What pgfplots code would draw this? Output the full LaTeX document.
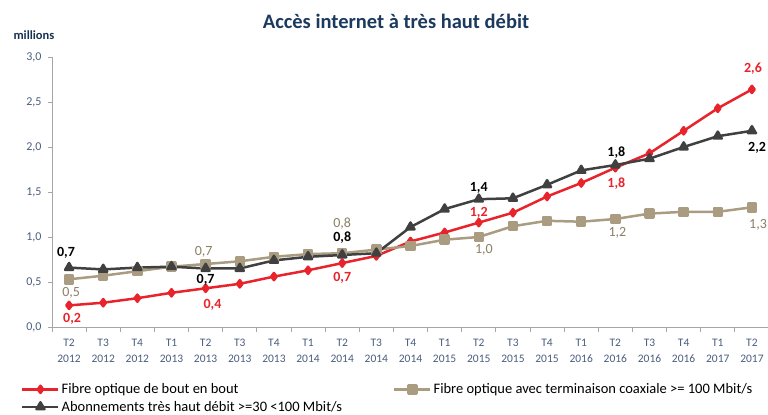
\documentclass[border=0pt]{standalone}
\usepackage{pgfplots}
\usepackage{pgfplotstable}
\pgfplotsset{compat=1.18}
\usepackage{fontspec}
\setmainfont{Carlito}
\definecolor{cred}{HTML}{E8232B}
\definecolor{ctan}{HTML}{A99C80}
\definecolor{ctanlab}{HTML}{8C7F64}
\definecolor{cdark}{HTML}{404040}
\definecolor{ctick}{HTML}{4A5D7E}
\definecolor{ctitle}{HTML}{1B3A5E}

\pgfplotstableread{
x y
0 0.24
1 0.27
2 0.32
3 0.38
4 0.43
5 0.48
6 0.56
7 0.63
8 0.71
9 0.79
10 0.95
11 1.05
12 1.16
13 1.27
14 1.45
15 1.60
16 1.77
17 1.93
18 2.18
19 2.43
20 2.64
}\redtab
\pgfplotstableread{
x y
0 0.53
1 0.57
2 0.62
3 0.67
4 0.70
5 0.73
6 0.78
7 0.81
8 0.82
9 0.86
10 0.90
11 0.97
12 1.00
13 1.12
14 1.18
15 1.17
16 1.20
17 1.26
18 1.28
19 1.28
20 1.33
}\tantab
\pgfplotstableread{
x y
0 0.66
1 0.64
2 0.66
3 0.67
4 0.65
5 0.65
6 0.74
7 0.78
8 0.80
9 0.82
10 1.11
11 1.31
12 1.42
13 1.43
14 1.58
15 1.74
16 1.80
17 1.87
18 2.00
19 2.12
20 2.18
}\darktab
% label positions (x, y of the label centre) and texts
\pgfplotstableread{
x y lab
0.09 0.096 0,2
4.2 0.241 0,4
8 0.543 0,7
12 1.271 1,2
16.03 1.592 1,8
20.03 2.873 2,6
}\redlab
\pgfplotstableread{
x y lab
0.06 0.374 0,5
3.94 0.833 0,7
8 1.153 0,8
12.15 0.856 1,0
16.06 1.044 1,2
20.18 1.13 1,3
}\tanlab
\pgfplotstableread{
x y lab
-0.09 0.827 0,7
4 0.528 0,7
8 0.989 0,8
12 1.542 1,4
16.03 1.933 1,8
20.15 1.991 2,2
}\darklab

\pgfplotsset{
  labelplot/.style={
    draw=none, mark=none, forget plot,
    point meta=explicit symbolic,
    nodes near coords,
    nodes near coords align=center,
  }
}

\begin{document}
\begin{tikzpicture}
\begin{axis}[
  at={(52bp,88bp)}, anchor=south west,
  scale only axis, width=717bp, height=270bp,
  xmin=-0.5, xmax=20.5, ymin=0, ymax=3,
  clip=false,
  axis x line*=bottom, axis y line*=left,
  axis line style={draw=black!35, line width=0.8bp},
  every axis plot/.append style={line join=round},
  /pgf/number format/assume math mode=true,
  tick align=outside,
  xtick={0,...,20},
  xticklabels={{T2\\2012},{T3\\2012},{T4\\2012},{T1\\2013},{T2\\2013},{T3\\2013},{T4\\2013},{T1\\2014},{T2\\2014},{T3\\2014},{T4\\2014},{T1\\2015},{T2\\2015},{T3\\2015},{T4\\2015},{T1\\2016},{T2\\2016},{T3\\2016},{T4\\2016},{T1\\2017},{T2\\2017}},
  x tick label style={align=center, text=ctick, font=\fontsize{11.5bp}{16bp}\selectfont, inner sep=2bp, yshift=-6bp},
  major x tick style={draw=none},
  minor xtick={-0.5,0.5,...,20.5},
  minor tick length=5bp,
  minor x tick style={draw=black!35, line width=0.8bp},
  ytick={0,0.5,...,3},
  major tick length=4bp,
  y tick style={draw=black!35, line width=0.8bp},
  yticklabel style={/pgf/number format/.cd, fixed, fixed zerofill, precision=1, use comma, /tikz/.cd, text=ctick, font=\fontsize{12bp}{13bp}\selectfont, xshift=-3bp},
  legend columns=2,
  legend cell align=left,
  legend style={at={(-0.0474,-0.194)}, anchor=north west, draw=none, fill=none,
    font=\fontsize{14.5bp}{16bp}\selectfont, row sep=2bp,
    /tikz/column 2/.style={column sep=49bp}},
  legend image code/.code={\draw[#1, mark repeat=2, mark phase=2, line width=2.5bp] plot coordinates {(0bp,0bp) (18bp,0bp) (36bp,0bp)};},
]
\addplot[cred, line width=2.5bp, mark=diamond*, mark size=3.6bp] table[x=x,y=y]{\redtab};
\addlegendentry{Fibre optique de bout en bout}
\addplot[ctan, line width=2.5bp, mark=square*, mark size=4bp] table[x=x,y=y]{\tantab};
\addlegendentry{Fibre optique avec terminaison coaxiale >= 100 Mbit/s}
\addplot[cdark, line width=2.5bp, mark=triangle*, mark size=4.6bp] table[x=x,y=y]{\darktab};
\addlegendentry{Abonnements très haut débit >=30 <100 Mbit/s}

\addplot[labelplot, nodes near coords style={anchor=center, inner sep=0pt, text=cred, font=\fontsize{14bp}{15bp}\selectfont\bfseries}] table[x=x,y=y,meta=lab]{\redlab};
\addplot[labelplot, nodes near coords style={anchor=center, inner sep=0pt, text=ctanlab, font=\fontsize{14bp}{15bp}\selectfont}] table[x=x,y=y,meta=lab]{\tanlab};
\addplot[labelplot, nodes near coords style={anchor=center, inner sep=0pt, text=black, font=\fontsize{14bp}{15bp}\selectfont\bfseries}] table[x=x,y=y,meta=lab]{\darklab};
\end{axis}
\node[anchor=base, text=ctitle, font=\fontsize{20.5bp}{22bp}\selectfont\bfseries] at (396bp,386bp) {Accès internet à très haut débit};
\node[anchor=west, text=ctitle!85!black, font=\fontsize{12.5bp}{14bp}\selectfont\bfseries] at (10bp,380bp) {millions};
\pgfresetboundingbox
\useasboundingbox (0,0) rectangle (768bp,415bp);
\end{tikzpicture}
\end{document}
